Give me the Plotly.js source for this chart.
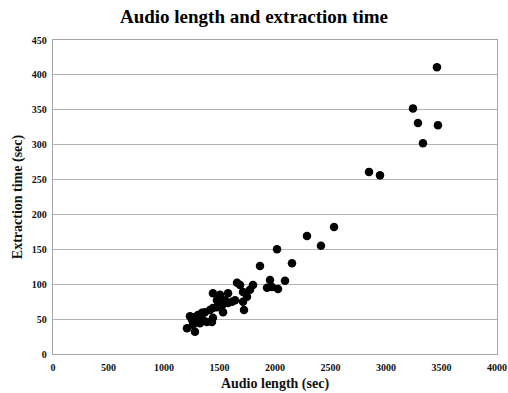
<!DOCTYPE html>
<html>
<head>
<meta charset="utf-8">
<script src="https://cdn.plot.ly/plotly-3.0.1.min.js"></script>
<style>html,body{margin:0;padding:0;background:#fff;}#chart{width:508px;height:393px;}</style>
</head>
<body>
<div id="chart"></div>
<script>
const audioLength = [1207,1279,1234,1252,1261,1297,1324,1351,1387,1432,1441,1279,1306,1342,1369,1414,1441,1477,1523,1532,1550,1613,1577,1505,1441,1658,1685,1712,1748,1712,1721,1775,1802,1865,1928,1973,1955,2027,2090,2018,2153,2288,2414,2532,2847,2946,3243,3288,3333,3468,3459,1640,1577,1477];
const extractionTime = [37,32,54,49,42,46,44,49,46,46,52,53,56,59,60,63,66,67,70,60,77,75,87,85,87,102,99,89,82,75,63,92,99,126,95,96,106,93,105,150,130,169,155,182,261,256,352,331,302,328,411,77,73,77];
const xTicks = [0,500,1000,1500,2000,2500,3000,3500,4000];
const yTicks = [0,50,100,150,200,250,300,350,400,450];

const serif = 'Liberation Serif, Times New Roman, serif';
const trace = {
  x: audioLength, y: extractionTime, type: 'scatter', mode: 'markers',
  marker: {color: '#000', size: 8.5},
  hoverinfo: 'skip'
};
const layout = {
  width: 508, height: 393,
  margin: {l: 53, r: 11, t: 40, b: 39},
  paper_bgcolor: '#fff', plot_bgcolor: '#fff',
  showlegend: false,
  title: {text: '<b>Audio length and extraction time</b>', font: {family: serif, size: 19, color: '#000'}, x: 0.5, xanchor: 'center', y: 0.958, yanchor: 'middle'},
  xaxis: {
    range: [0, 4000], tickvals: xTicks, ticktext: xTicks.map(v => '<b>' + v + '</b>'),
    showgrid: false, zeroline: false, showline: true, mirror: true, linecolor: '#a6a6a6', linewidth: 1.3,
    ticks: '', ticklabelstandoff: 4, tickfont: {family: serif, size: 10, color: '#111'},
    title: {text: '<b>Audio length (sec)</b>', font: {family: serif, size: 14, color: '#111'}, standoff: 6}
  },
  yaxis: {
    range: [0, 450], tickvals: yTicks, ticktext: yTicks.map(v => '<b>' + v + '</b>'),
    showgrid: true, gridcolor: '#b3b3b3', gridwidth: 1.2, zeroline: false,
    showline: true, mirror: true, linecolor: '#a6a6a6', linewidth: 1.3,
    ticks: '', ticklabelstandoff: 3, tickfont: {family: serif, size: 10, color: '#111'},
    title: {text: '<b>Extraction time (sec)</b>', font: {family: serif, size: 14, color: '#111'}, standoff: 5}
  }
};
Plotly.newPlot('chart', [trace], layout, {displayModeBar: false, staticPlot: true});
</script>
</body>
</html>
